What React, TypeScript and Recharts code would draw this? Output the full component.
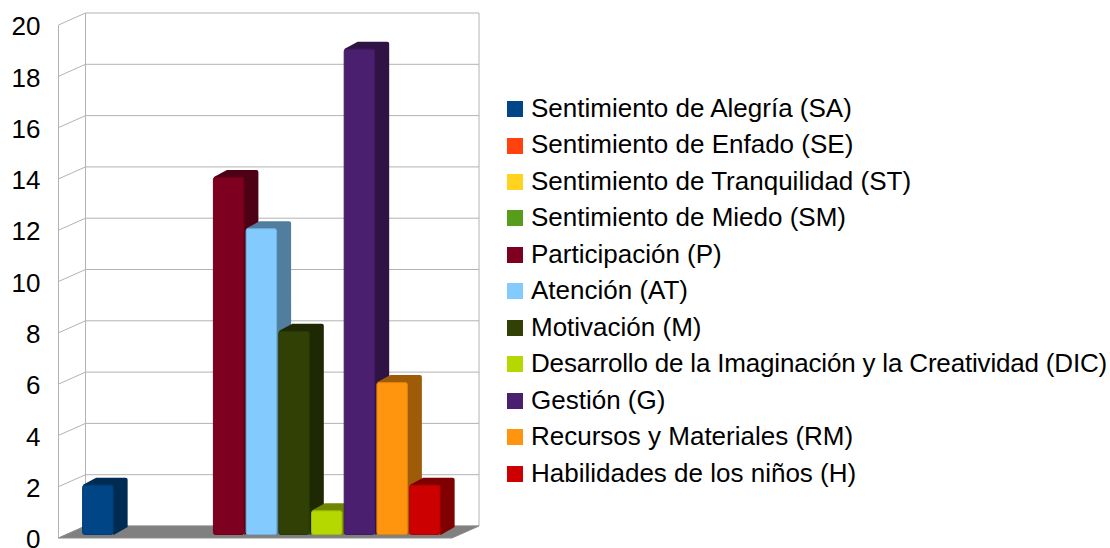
import { Bar, BarChart, CartesianGrid, Legend, ReferenceArea, XAxis, YAxis } from 'recharts';

const seriesNames = [
  'Sentimiento de Alegría (SA)',
  'Sentimiento de Enfado (SE)',
  'Sentimiento de Tranquilidad (ST)',
  'Sentimiento de Miedo (SM)',
  'Participación (P)',
  'Atención (AT)',
  'Motivación (M)',
  'Desarrollo de la Imaginación y la Creatividad (DIC)',
  'Gestión (G)',
  'Recursos y Materiales (RM)',
  'Habilidades de los niños (H)',
];
const seriesValues = [2, 0, 0, 0, 14, 12, 8, 1, 19, 6, 2];
const seriesColors = ['#004586', '#ff420e', '#ffd320', '#579d1c', '#7e0021', '#83caff', '#314004', '#b4d800', '#4b1f6f', '#ff950e', '#cc0000'];
const yTicks = [0, 2, 4, 6, 8, 10, 12, 14, 16, 18, 20];

const row: Record<string, string | number> = { name: 'Grupo' };
seriesNames.forEach((n, i) => {
  row[n] = seriesValues[i];
});
const chartData = [row];

const FONT = '"Liberation Sans", Arial, sans-serif';
const GRID = '#b3b3b3';
const WALL_DX = 27;
const WALL_DY = 12;
const BAR_DX = 14;
const BAR_DY = 7;

function darken(hex: string, k: number) {
  const n = parseInt(hex.slice(1), 16);
  const c = [(n >> 16) & 255, (n >> 8) & 255, n & 255].map((v) => Math.round(v * k));
  return `rgb(${c[0]},${c[1]},${c[2]})`;
}

// gridline wraps from the left wall onto the back wall
function gridLine(props: any) {
  const { x1, y1, x2, index } = props;
  return (
    <path
      key={`grid-${index}`}
      d={`M${x1},${y1}L${x1 + WALL_DX},${y1 - WALL_DY}L${x2 + WALL_DX},${y1 - WALL_DY}`}
      fill="none"
      stroke={GRID}
      strokeWidth={1}
    />
  );
}

function WallFrame(props: any) {
  const { x, y, width, height } = props;
  const b = y + height;
  const r = x + width;
  return (
    <g>
      <path d={`M${x},${y}V${b}`} stroke={GRID} fill="none" />
      <path d={`M${x + WALL_DX},${y - WALL_DY}V${b - WALL_DY}`} stroke={GRID} fill="none" />
      <path d={`M${r + WALL_DX},${y - WALL_DY}V${b - WALL_DY}`} stroke={GRID} fill="none" />
      <path d={`M${x},${b}L${x + WALL_DX},${b - WALL_DY}H${r + WALL_DX}L${r},${b}Z`} fill="#808080" stroke="#8c8c8c" />
    </g>
  );
}

function Bar3D(props: any) {
  const { x, y, width, height, fill } = props;
  if (!height || height <= 0) return null;
  const left = x + 6.6;
  const right = left + width - 0.5;
  const top = y - 2;
  const bottom = y + height - 3;
  const dark = darken(fill, 0.62);
  return (
    <g>
      <path
        d={`M${left + 1},${top}L${left + BAR_DX},${top - BAR_DY}H${right + BAR_DX - 2}Q${right + BAR_DX},${top - BAR_DY} ${right + BAR_DX},${top - BAR_DY + 2}V${bottom - BAR_DY - 1}L${right},${bottom}Z`}
        fill={dark}
      />
      <rect
        x={left + 0.5}
        y={top + 0.5}
        width={right - left - 1}
        height={bottom - top - 1}
        rx={2}
        fill={fill}
        stroke={darken(fill, 0.88)}
        strokeWidth={1}
      />
    </g>
  );
}

export default function App() {
  return (
    <div style={{ position: 'absolute', left: 0, top: 0, width: 1110, height: 548 }}>
      <BarChart
        width={1110}
        height={548}
        data={chartData}
        margin={{ top: 25, right: 55, bottom: 10, left: 0 }}
        barSize={32}
        barGap={0.7}
      >
        <CartesianGrid horizontal={gridLine} vertical={false} />
        <ReferenceArea y1={0} y2={20} shape={WallFrame} ifOverflow="visible" />
        <XAxis dataKey="name" hide />
        <YAxis
          width={58.5}
          domain={[0, 20]}
          ticks={yTicks}
          interval={0}
          axisLine={false}
          tickLine={false}
          tickSize={0}
          tickMargin={18}
          tick={{ fontSize: 26, fill: '#000', fontFamily: FONT, dy: 1 }}
        />
        <Legend
          layout="vertical"
          align="right"
          verticalAlign="top"
          iconType="square"
          iconSize={16}
          width={603}
          itemSorter={null}
          formatter={(value: string) => (
            <span
              style={{
                color: '#000',
                marginLeft: 4,
                whiteSpace: 'nowrap',
                letterSpacing: value.length > 40 ? -0.18 : 0,
                position: 'relative',
                top: 1,
              }}
            >
              {value}
            </span>
          )}
          wrapperStyle={{ left: 507, top: 89, fontFamily: FONT, fontSize: 26, lineHeight: '36.45px' }}
        />
        {seriesNames.map((n, i) => (
          <Bar key={n} dataKey={n} fill={seriesColors[i]} shape={Bar3D} isAnimationActive={false} />
        ))}
      </BarChart>
    </div>
  );
}
